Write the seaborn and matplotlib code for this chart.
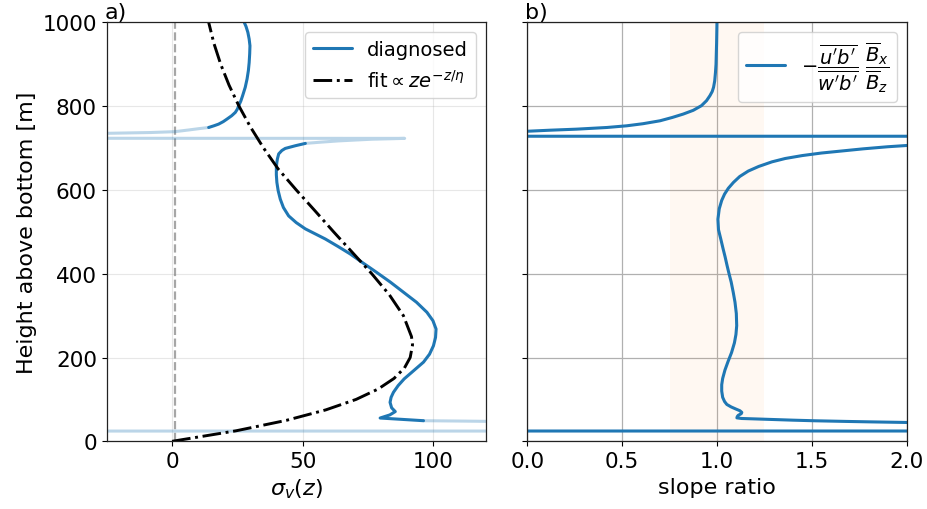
import matplotlib
matplotlib.use("Agg")
import matplotlib.pyplot as plt
import seaborn as sns

# ---------------- data ----------------
# panel a: diagnosed sigma_v(z), dark (trusted) parts
diag_low_z = [49.2, 55.6, 63, 71, 80, 93, 105, 117, 133, 149, 169, 189, 208, 228,
              248, 268, 288, 308, 332, 356, 380, 403, 425, 447, 465, 483, 495, 507,
              522, 538, 558, 578, 598, 618, 636, 654, 666, 674, 686, 694, 699,
              705.5, 711]
diag_low_s = [96.2, 79.6, 83.3, 85.4, 84.0, 83.4, 83.8, 84.7, 86.5, 88.8, 92.5,
              96.2, 98.5, 100, 100.8, 101, 99.8, 97.5, 93.5, 88.5, 83.5, 78.3, 73.2,
              68.2, 63.5, 58.6, 54.8, 51, 47.5, 44.6, 42.6, 41.4, 40.6, 40.1, 39.9,
              39.9, 40.1, 40.3, 40.8, 42, 43.3, 47.2, 51]
diag_up_z = [749, 753, 757, 763, 769, 777, 785, 793, 801, 812, 825, 845, 865, 885,
             904, 925, 944, 960, 976, 990, 1000]
diag_up_s = [14, 16, 17.8, 19.6, 21, 22.8, 24.2, 25, 25.5, 26.3, 27, 28, 28.7, 29.2,
             29.5, 29.7, 29.8, 29.5, 29, 28.3, 27.6]
# panel a: diagnosed, faded (near-singular) parts
faded_mid_z = [749, 746, 743, 739, 737, 735, 729, 723, 722, 721, 719, 717, 714, 711]
faded_mid_s = [14, 10, 6.3, 1.0, -8, -25.5, -3000, 89, 83, 76.5, 70, 63.7, 57, 51]
faded_low_z = [24.2, 24.8, 46.5, 47.7, 48.5, 49.2]
faded_low_s = [-3000, 3000, 3000, 120, 108, 96.2]
# panel a: fit ~ z exp(-z/eta)
fit_z = [0, 25, 50, 75, 100, 125, 150, 175, 200, 230, 250, 300, 350, 400, 450,
         500, 550, 600, 650, 700, 750, 800, 850, 900, 950, 1000]
fit_s = [0, 24.4, 43.7, 58.8, 70.4, 78.9, 84.9, 88.9, 91.1, 92.0, 91.6, 88.5, 83.1,
         76.4, 69.1, 61.8, 54.7, 47.5, 40.6, 35.0, 30.0, 25.6, 21.8, 18.6, 16.0, 14.0]
zero_line = [1.0, 1.0]
zero_line_z = [0, 1000]

# panel b: slope ratio
ratio_z = [1000, 950, 900, 880, 860, 845, 835, 825, 813, 801, 790, 781, 773, 765,
           758, 753, 749, 745, 742.5, 740, 737,
           728.6, 727.6, 712,
           706, 703, 698, 693, 688, 682, 675, 667, 656, 645, 632, 618, 604, 590,
           575, 555, 530, 505, 483, 460, 440, 420, 403, 380, 355, 332, 305, 276,
           255, 235, 212, 190, 170, 150, 135, 120, 105, 95, 88, 82, 77, 73, 69, 66,
           62, 59, 56, 54.5, 53.5, 52, 50.5, 49, 47.5, 46.5, 45, 43,
           25.0, 24.2]
ratio_x = [1.0, 0.998, 0.995, 0.992, 0.988, 0.982, 0.975, 0.963, 0.945, 0.918,
           0.875, 0.822, 0.765, 0.7, 0.61, 0.524, 0.42, 0.26, 0.12, 0.0, -0.3,
           -50, 50, 2.3,
           2.0, 1.9, 1.77, 1.66, 1.55, 1.45, 1.36, 1.29, 1.22, 1.165, 1.12, 1.087,
           1.06, 1.04, 1.025, 1.012, 1.005, 1.008, 1.02, 1.032, 1.043, 1.053, 1.062,
           1.075, 1.086, 1.095, 1.102, 1.104, 1.1, 1.092, 1.077, 1.058, 1.042, 1.03,
           1.025, 1.025, 1.03, 1.04, 1.052, 1.075, 1.1, 1.121, 1.131, 1.128, 1.112,
           1.107, 1.105, 1.13, 1.2, 1.3, 1.4, 1.52, 1.68, 1.8, 2.0, 3.0,
           50, -50]
band = [0.75, 1.25]

# ---------------- figure ----------------
sns.set_theme(style="ticks")
plt.rcParams['font.family'] = ['DejaVu Sans']
plt.rcParams['mathtext.fontset'] = 'dejavusans'
plt.rcParams['axes.edgecolor'] = '#222222'
plt.rcParams['text.color'] = 'black'
plt.rcParams['axes.labelcolor'] = 'black'
plt.rcParams['xtick.color'] = 'black'
plt.rcParams['ytick.color'] = 'black'

TS = 15.5
LS = 16
LW = 2.2
blue = '#1f77b4'
fig = plt.figure(figsize=(9.28, 5.10), dpi=100)
ax1 = fig.add_axes([0.115, 0.1327, 0.4084, 0.8216])
ax2 = fig.add_axes([0.5682, 0.1327, 0.4088, 0.8216])

# panel a
sns.lineplot(x=zero_line, y=zero_line_z, ax=ax1, color='grey', alpha=0.7,
             linestyle='--', lw=1.6, sort=False, estimator=None)
sns.lineplot(x=faded_mid_s, y=faded_mid_z, ax=ax1, color=blue, alpha=0.3, lw=LW,
             sort=False, estimator=None)
sns.lineplot(x=faded_low_s, y=faded_low_z, ax=ax1, color=blue, alpha=0.3, lw=LW,
             sort=False, estimator=None)
sns.lineplot(x=diag_low_s, y=diag_low_z, ax=ax1, color=blue, lw=LW,
             sort=False, estimator=None, label='diagnosed')
sns.lineplot(x=diag_up_s, y=diag_up_z, ax=ax1, color=blue, lw=LW,
             sort=False, estimator=None)
sns.lineplot(x=fit_s, y=fit_z, ax=ax1, color='black', lw=2.1, linestyle='-.',
             sort=False, estimator=None, label=r'fit$\propto ze^{-z/\eta}$')
ax1.set_xlim(-25, 120)
ax1.set_ylim(0, 1000)
ax1.set_xticks([0, 50, 100])
ax1.set_yticks([0, 200, 400, 600, 800, 1000])
ax1.grid(True, color='#b0b0b0', alpha=0.3, lw=0.8)
ax1.set_xlabel(r'$\sigma_v(z)$', fontsize=LS)
ax1.set_ylabel('Height above bottom [m]', fontsize=LS)
ax1.tick_params(labelsize=TS, length=3.5, width=0.8)
ax1.set_title('a)', loc='left', fontsize=LS, pad=3, x=-0.005)
ax1.legend(loc='upper right', fontsize=14, frameon=True, fancybox=True,
           framealpha=0.8, edgecolor='#cccccc')

# panel b
ax2.axvspan(band[0], band[1], color='#ff7f0e', alpha=0.05, lw=0)
sns.lineplot(x=ratio_x, y=ratio_z, ax=ax2, color=blue, lw=LW, sort=False,
             estimator=None,
             label=r'$-\dfrac{\overline{u^\prime b^\prime}}{\overline{w^\prime b^\prime}}\ \dfrac{\overline{B}_x}{\overline{B}_z}$')
ax2.set_xlim(0, 2)
ax2.set_ylim(0, 1000)
ax2.set_xticks([0, 0.5, 1.0, 1.5, 2.0])
ax2.set_yticks([0, 200, 400, 600, 800, 1000])
ax2.grid(True, color='#b0b0b0', lw=0.9)
ax2.set_xlabel('slope ratio', fontsize=LS)
ax2.set_ylabel('')
ax2.tick_params(labelsize=TS, labelleft=False, length=3.5, width=0.8)
ax2.set_title('b)', loc='left', fontsize=LS, pad=3, x=-0.005)
ax2.legend(loc='upper right', fontsize=14, frameon=True, fancybox=True,
           framealpha=0.8, edgecolor='#cccccc')

for ax in (ax1, ax2):
    for s in ax.spines.values():
        s.set_visible(True)
        s.set_linewidth(0.9)
    ax.set_axisbelow(True)

fig.savefig('out.png', dpi=100)
